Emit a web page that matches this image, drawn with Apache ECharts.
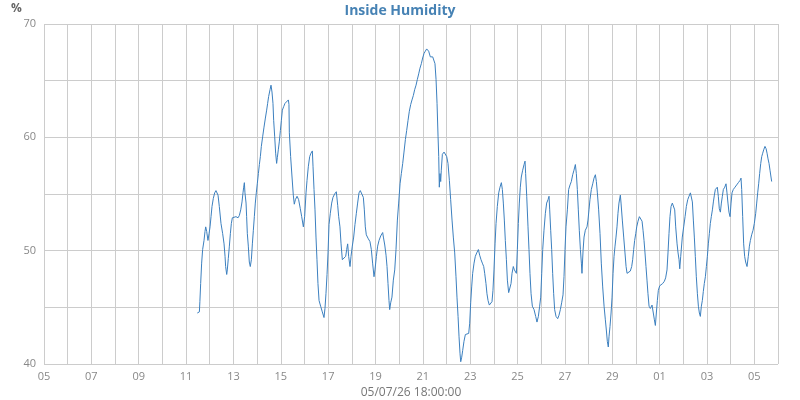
<!DOCTYPE html>
<html><head><meta charset="utf-8">
<script src="https://cdn.jsdelivr.net/npm/echarts@6/dist/echarts.min.js"></script>
<style>html,body{margin:0;padding:0;background:#fff}#c{width:800px;height:400px}</style>
</head><body><div id="c"></div>
<script>
const chartTitle = 'Inside Humidity';
const unitLabel = '%';
const footerLabel = '05/07/26 18:00:00';
const startUTC = Date.UTC(2026, 5, 5); // 05 June 2026 00:00
const xMaxHours = 744;                 // 06 July 00:00
const yMin = 40, yMax = 70;

// hours since 05/06 00:00
const hours = [
155.4,157.5,158.0,158.8,159.8,160.8,162.2,163.2,163.9,164.9,166.2,167.3,168.3,169.3,170.3,171.6,173.0,174.3,175.7,176.4,
177.7,179.4,181.1,182.5,183.5,184.1,185.2,185.8,186.8,187.9,188.9,189.9,190.9,192.6,194.6,196.7,198.0,199.4,200.7,201.7,
202.4,203.1,203.7,204.8,205.4,206.1,207.1,208.1,209.1,210.2,211.2,212.2,213.2,214.2,215.2,216.2,217.3,218.3,219.3,220.3,
221.7,223.0,224.4,225.7,226.7,227.7,229.1,230.1,231.1,232.1,232.8,233.8,234.8,235.8,236.5,237.5,238.5,239.6,240.6,241.6,
242.9,244.3,246.0,247.7,248.3,248.7,250.0,251.4,252.7,253.7,254.8,256.5,258.1,259.8,261.2,262.9,264.2,265.6,266.6,267.9,
269.3,270.6,272.0,272.7,273.7,274.7,275.7,276.7,277.7,278.8,280.4,282.1,283.8,284.8,285.8,286.9,287.9,288.9,290.2,291.6,
292.9,294.6,296.3,297.7,298.7,300.0,301.1,302.4,304.1,305.8,306.8,307.8,308.8,310.2,311.2,312.5,313.9,315.2,316.6,317.9,
319.3,320.6,322.3,323.7,324.7,325.7,326.7,328.4,330.4,331.8,333.1,334.5,335.5,336.9,338.2,339.6,341.3,343.3,344.0,345.4,
346.7,347.7,348.7,349.7,350.4,351.4,352.7,354.1,355.5,356.8,358.2,359.5,360.9,362.2,363.6,364.9,366.3,367.6,369.0,370.3,
371.7,373.0,374.4,375.7,377.1,378.4,379.8,381.1,382.5,383.8,385.2,386.5,387.9,388.9,389.9,391.6,394.0,395.3,396.3,397.4,
398.4,399.4,400.1,400.7,401.4,402.1,402.7,403.8,405.5,406.8,408.2,409.5,410.9,412.2,413.6,414.9,416.3,417.6,418.6,419.7,
420.7,421.7,422.4,423.4,424.4,425.7,427.1,428.8,430.5,431.5,432.5,433.5,434.5,435.9,437.2,438.6,440.3,441.6,443.0,444.3,
445.7,446.7,448.0,449.0,450.1,451.4,452.8,454.1,455.1,456.1,457.2,458.2,459.5,460.9,462.2,463.6,464.6,465.6,466.6,467.6,
468.7,469.7,471.0,472.4,473.4,474.4,475.7,476.8,477.8,478.8,479.8,480.8,481.8,482.8,483.8,485.2,486.6,487.6,488.2,489.3,
490.6,491.6,492.6,493.7,495.0,496.7,498.4,499.7,501.1,502.4,503.5,504.5,505.5,506.8,508.2,509.5,510.9,511.9,512.6,513.6,
514.6,515.6,516.6,517.6,519.0,520.7,522.0,523.4,524.7,526.1,527.1,528.1,529.1,530.5,531.8,533.2,534.5,535.9,537.2,538.6,
539.6,540.6,541.6,542.6,543.7,544.7,545.3,546.4,547.4,548.7,550.4,551.4,552.4,553.4,554.8,556.2,557.5,558.9,559.9,560.9,
562.2,563.6,564.9,566.3,567.7,569.0,570.0,571.0,572.0,572.7,573.7,574.8,575.8,576.8,577.8,578.8,579.8,580.8,581.8,582.8,
584.2,584.9,586.2,587.6,588.9,590.0,591.0,592.7,594.3,595.7,596.7,597.7,598.7,599.8,600.8,602.1,603.5,604.8,606.2,607.2,
608.2,609.2,610.2,611.2,612.2,613.3,614.6,616.3,617.6,618.7,619.7,620.7,621.7,622.7,624.1,625.4,627.1,628.8,630.1,631.5,
632.5,633.5,634.5,635.6,636.9,638.3,639.3,640.3,641.7,642.7,643.7,644.4,645.4,647.0,648.4,649.8,651.1,652.5,653.8,655.2,
656.2,657.2,658.2,659.2,660.2,661.2,662.3,663.3,664.3,665.3,666.3,667.3,668.3,669.3,670.4,671.4,672.4,673.4,674.4,675.4,
676.4,677.5,678.5,679.5,680.5,681.5,682.5,683.5,684.5,685.6,686.6,687.6,688.6,690.0,691.3,692.3,693.3,694.3,695.4,696.4,
697.4,698.7,700.4,702.1,703.8,705.5,706.5,707.2,708.2,709.2,710.2,711.2,712.6,713.9,715.0,716.0,717.3,718.7,720.0,721.4,
722.4,723.4,724.4,725.4,726.5,727.5,728.5,729.5,730.8,731.9,732.9,733.9,734.9,735.9,736.9,737.6
];

// inside humidity, %
const humidity = [
44.5,44.6,45.5,47.1,48.9,50.1,50.9,51.7,52.1,51.7,50.9,51.5,52.1,53.0,53.9,54.6,55.1,55.3,55.4,54.9,
53.9,52.4,51.5,50.6,49.5,48.6,47.9,48.3,49.3,50.4,51.5,52.4,52.9,53.0,53.0,52.9,53.1,53.6,54.3,55.1,
55.6,56.0,55.1,54.2,53.0,51.5,50.4,49.0,48.6,49.2,50.6,51.8,53.0,54.2,55.1,55.9,56.8,57.6,58.3,59.2,
60.1,60.9,61.7,62.4,63.0,63.6,64.2,64.6,64.0,63.0,61.5,60.1,58.6,57.7,58.2,58.9,59.6,60.6,61.5,62.4,
62.7,63.0,63.1,63.3,62.9,60.4,58.3,56.5,54.9,54.1,54.5,54.8,54.5,53.7,53.0,52.1,53.0,55.1,56.2,57.4,
58.3,58.6,58.8,57.4,55.4,53.6,51.2,49.2,47.1,45.6,45.1,44.6,44.1,44.9,46.2,47.9,49.8,52.3,53.3,54.2,
54.7,55.0,55.2,54.0,53.0,52.1,50.6,49.2,49.2,49.5,50.1,50.6,49.5,48.6,49.5,50.4,51.2,52.3,53.3,54.2,
55.1,55.3,55.4,54.7,53.6,52.1,51.4,51.1,50.8,50.1,48.9,47.7,48.3,49.5,50.4,50.9,51.3,51.6,51.2,50.5,
49.6,48.6,47.1,45.6,44.8,45.4,45.9,47.4,48.3,50.1,52.7,54.2,55.9,56.8,57.7,58.7,59.8,60.6,61.5,62.3,
62.9,63.3,63.7,64.2,64.6,65.1,65.6,66.1,66.5,67.0,67.4,67.6,67.8,67.9,67.6,67.1,67.1,67.0,66.5,65.1,
63.0,60.1,58.3,55.6,56.8,56.1,57.1,58.5,58.7,58.6,58.3,57.7,56.2,54.5,52.7,51.2,49.8,47.7,45.9,44.2,
42.4,40.9,40.2,40.6,41.2,42.0,42.6,42.7,42.7,43.6,45.4,46.8,48.0,48.9,49.5,49.8,50.1,49.6,49.2,48.9,
48.6,48.0,47.1,46.2,45.6,45.2,45.1,45.5,46.5,48.3,50.6,52.4,53.9,55.1,55.6,56.0,55.4,54.2,52.7,50.9,
49.2,47.4,46.3,46.2,47.1,48.0,48.6,48.3,48.4,48.0,50.1,52.4,54.2,55.6,56.5,57.1,57.6,57.9,56.8,54.8,
52.1,50.1,48.0,46.2,45.1,44.8,44.2,43.7,44.2,45.1,45.9,48.0,50.1,51.8,53.3,54.2,54.5,54.8,53.6,51.8,
50.1,48.0,46.2,44.8,44.2,44.0,44.3,44.8,45.4,46.1,47.7,50.1,52.1,53.6,55.4,55.8,56.1,56.7,57.1,57.6,
56.8,55.4,53.6,51.8,50.1,48.9,48.0,50.0,51.2,51.8,52.1,52.7,53.6,54.5,55.4,55.9,56.4,56.7,56.1,55.1,
53.6,51.5,48.9,46.8,45.1,43.9,43.0,42.0,41.5,42.4,43.3,44.5,45.9,48.0,49.5,50.4,51.2,52.1,53.3,54.2,
54.9,54.2,52.7,51.2,49.8,48.6,48.0,48.1,48.2,48.6,49.2,50.1,50.9,51.5,52.1,52.6,53.0,52.9,52.6,51.8,
50.9,49.8,48.6,47.4,46.2,45.1,44.9,45.2,44.5,43.9,43.4,44.5,45.6,46.5,46.9,47.0,47.1,47.3,47.6,48.3,
49.8,51.5,53.0,53.9,54.2,54.3,53.6,52.1,50.6,49.8,49.2,48.4,49.5,51.2,52.1,53.0,53.9,54.5,54.8,55.1,
55.2,54.3,52.7,51.2,49.5,47.7,46.2,45.1,44.5,44.2,45.1,45.6,46.4,47.1,47.7,48.6,49.5,50.6,51.5,52.4,
53.0,53.6,54.3,54.9,55.4,55.5,55.6,54.8,53.7,53.4,54.2,54.8,55.4,55.6,55.9,55.1,54.2,53.4,53.0,54.2,
55.1,55.4,55.6,55.8,56.0,56.2,56.4,55.4,53.0,50.6,49.5,49.0,48.6,49.5,50.4,50.9,51.4,51.8,52.4,53.3,
54.2,55.1,55.9,56.8,57.7,58.3,58.6,58.9,59.2,59.0,58.6,58.1,57.7,57.1,56.5,56.1
];

const seriesData = hours.map((h, i) => [h, humidity[i]]);
const font = 'Open Sans';

function dayLabel(v) {
  const k = Math.round(v / 24);
  if (k % 2 !== 0 || v >= xMaxHours) return '';
  const d = new Date(startUTC + v * 3600000).getUTCDate();
  return (d < 10 ? '0' : '') + d;
}

const chart = echarts.init(document.getElementById('c'), null, { renderer: 'canvas' });
chart.setOption({
  animation: false,
  backgroundColor: '#fff',
  title: {
    text: chartTitle, left: 'center', top: -1,
    textStyle: { fontFamily: font, fontSize: 14, fontWeight: 'bold', color: '#4682b4' }
  },
  graphic: [{
    type: 'text', left: 11, top: 3,
    style: { text: unitLabel, fontFamily: font, fontSize: 12, fontWeight: 'bold', fill: '#666' }
  }],
  grid: { left: 44, right: 22, top: 24, bottom: 36, containLabel: false, outerBoundsMode: 'none' },
  xAxis: {
    type: 'value', min: 0, max: xMaxHours, interval: 24,
    axisLine: { show: false }, axisTick: { show: false },
    splitLine: { show: true, lineStyle: { color: '#cccccc', width: 1 } },
    axisLabel: { formatter: dayLabel, color: '#888', fontSize: 11, margin: 7, fontFamily: font, showMinLabel: true, showMaxLabel: true },
    name: footerLabel, nameLocation: 'middle', nameGap: 21,
    nameTextStyle: { fontFamily: font, fontSize: 12, color: '#777' }
  },
  yAxis: {
    type: 'value', min: yMin, max: yMax, interval: 5,
    axisLine: { show: false }, axisTick: { show: false },
    splitLine: { show: true, lineStyle: { color: '#cccccc', width: 1 } },
    axisLabel: {
      formatter: v => (v % 10 === 0 ? String(v) : ''),
      color: '#888', fontSize: 11, margin: 8, fontFamily: font
    }
  },
  series: [{
    type: 'line', data: seriesData, showSymbol: false, symbol: 'none',
    lineStyle: { width: 1, color: '#3c80bf' }, itemStyle: { color: '#3c80bf' }
  }]
});
</script>
</body></html>
